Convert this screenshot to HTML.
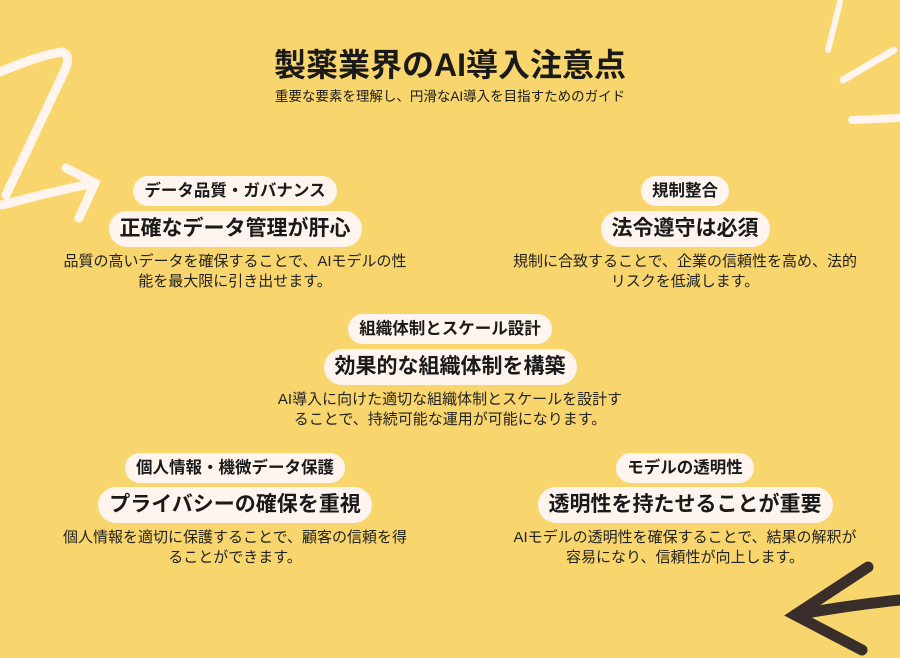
<!DOCTYPE html>
<html><head><meta charset="utf-8"><style>
body{margin:0;width:900px;height:658px;background:#F8D66D;position:relative;overflow:hidden;font-family:"Liberation Sans","Noto Sans CJK JP",sans-serif;color:#1a1a1a}
.a{position:absolute;text-align:center}
.pill{display:inline-block;background:#FFF5EE;border-radius:16px;font-weight:bold;white-space:nowrap}
.lb{font-size:16.5px;padding:4px 11px;line-height:22px}
.hd{font-size:21px;padding:5px 11px;line-height:26px;border-radius:18px}
.d{font-size:15px;line-height:20px;color:#222}
</style></head><body>
<svg width="900" height="658" style="position:absolute;left:0;top:0">
<g fill="none" stroke="#FFF5EE" stroke-linecap="round" stroke-width="9">
<path d="M0 72 Q40 55 62 52 Q72 55 64 72 L6 195"/>
<path d="M2 205 Q50 192 95 183"/>
<path d="M66 168 L95 183 L79 218"/>
<path d="M840 2 L828 50" stroke-width="6"/>
<path d="M894 50 L843 80" stroke-width="7"/>
<path d="M852 120 L898 118" stroke-width="8"/>
</g>
<g fill="none" stroke="#3A2E2A" stroke-linecap="round" stroke-width="11">
<path d="M900 600 Q850 605 795 615"/>
<path d="M868 567 L795 615 L862 650"/>
</g>
</svg>
<div class="a" style="left:0;width:900px;top:44px;font-size:32px;font-weight:bold;line-height:42px">製薬業界のAI導入注意点</div>
<div class="a" style="left:0;width:900px;top:88px;font-size:13.5px;line-height:18px">重要な要素を理解し、円滑なAI導入を目指すためのガイド</div>

<div class="a" style="left:35px;width:400px;top:176px"><span class="pill lb">データ品質・ガバナンス</span></div>
<div class="a" style="left:35px;width:400px;top:211px"><span class="pill hd">正確なデータ管理が肝心</span></div>
<div class="a d" style="left:25px;width:420px;top:252px">品質の高いデータを確保することで、AIモデルの性<br>能を最大限に引き出せます。</div>

<div class="a" style="left:485px;width:400px;top:176px"><span class="pill lb">規制整合</span></div>
<div class="a" style="left:485px;width:400px;top:211px"><span class="pill hd">法令遵守は必須</span></div>
<div class="a d" style="left:475px;width:420px;top:252px">規制に合致することで、企業の信頼性を高め、法的<br>リスクを低減します。</div>

<div class="a" style="left:250px;width:400px;top:314px"><span class="pill lb">組織体制とスケール設計</span></div>
<div class="a" style="left:250px;width:400px;top:349px"><span class="pill hd">効果的な組織体制を構築</span></div>
<div class="a d" style="left:240px;width:420px;top:390px">AI導入に向けた適切な組織体制とスケールを設計す<br>ることで、持続可能な運用が可能になります。</div>

<div class="a" style="left:35px;width:400px;top:453px"><span class="pill lb">個人情報・機微データ保護</span></div>
<div class="a" style="left:35px;width:400px;top:487px"><span class="pill hd">プライバシーの確保を重視</span></div>
<div class="a d" style="left:25px;width:420px;top:528px">個人情報を適切に保護することで、顧客の信頼を得<br>ることができます。</div>

<div class="a" style="left:485px;width:400px;top:453px"><span class="pill lb">モデルの透明性</span></div>
<div class="a" style="left:485px;width:400px;top:487px"><span class="pill hd">透明性を持たせることが重要</span></div>
<div class="a d" style="left:475px;width:420px;top:528px">AIモデルの透明性を確保することで、結果の解釈が<br>容易になり、信頼性が向上します。</div>
</body></html>
